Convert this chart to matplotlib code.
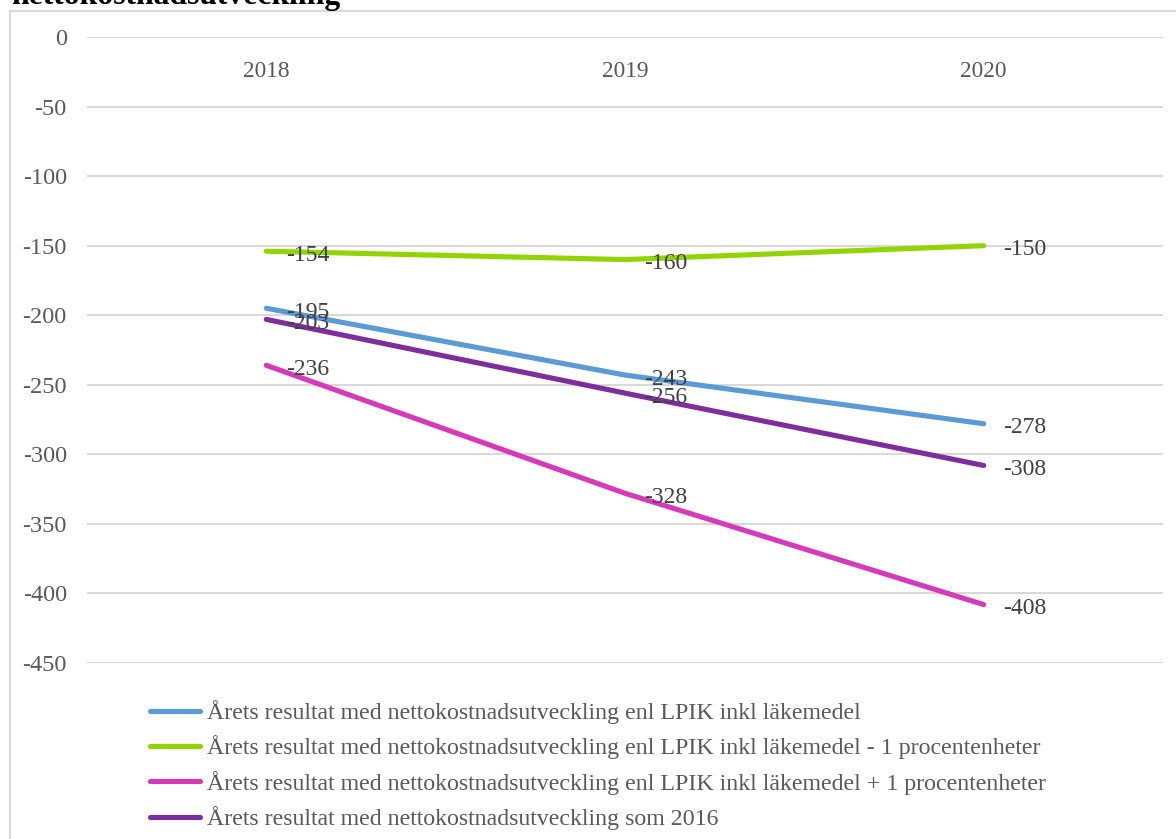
import matplotlib.pyplot as plt
from matplotlib.patches import Rectangle

# data
years = ['2018', '2019', '2020']
lpik = [-195, -243, -278]
lpik_minus1 = [-154, -160, -150]
lpik_plus1 = [-236, -328, -408]
som_2016 = [-203, -256, -308]

series_names = [
    'Årets resultat med nettokostnadsutveckling enl LPIK inkl läkemedel',
    'Årets resultat med nettokostnadsutveckling enl LPIK inkl läkemedel - 1 procentenheter',
    'Årets resultat med nettokostnadsutveckling enl LPIK inkl läkemedel + 1 procentenheter',
    'Årets resultat med nettokostnadsutveckling som 2016',
]
colors = ['#5B9BD5', '#92D400', '#D63AB8', '#7E2E9C']
y_ticks = [0, -50, -100, -150, -200, -250, -300, -350, -400, -450]

plt.rcParams['font.family'] = ['Liberation Serif', 'DejaVu Serif']

fig = plt.figure(figsize=(11.76, 8.39), dpi=100)
ax = fig.add_axes([87 / 1176, 1 - 663 / 839, 1076 / 1176, 626 / 839])

# outer chart border (runs off the right and bottom edge)
fig.patches.append(Rectangle((10 / 1176, -0.2), 1.2, 1.2 - 11 / 839,
                             transform=fig.transFigure, fill=False,
                             edgecolor='#D9D9D9', linewidth=1.5))

# title is cut off at the top, like in the original
fig.text(11 / 1176, 1 - 4 / 839, 'nettokostnadsutveckling', fontsize=22.8,
         fontweight='bold', va='baseline', ha='left', color='black')

x = list(range(len(years)))
for vals, name, col in zip([lpik, lpik_minus1, lpik_plus1, som_2016], series_names, colors):
    ax.plot(x, vals, color=col, linewidth=3.7, solid_capstyle='round', label=name, zorder=3)
    for xi, v in zip(x, vals):
        ax.annotate(str(v), (xi, v), xytext=(14, -3), textcoords='offset points',
                    ha='left', va='center', fontsize=17, color='#404040', zorder=4)

for t in y_ticks:
    ax.axhline(t, color='#D9D9D9', linewidth=1.5, zorder=1)

for xi, yr in zip(x, years):
    ax.text(xi, -24.5, yr, ha='center', va='center', fontsize=16.8, color='#595959')

ax.set_xlim(-0.5, 2.5)
ax.set_ylim(-450, 0)
ax.set_yticks(y_ticks)
ax.set_yticklabels([str(t) for t in y_ticks])
ax.set_xticks([])
ax.tick_params(axis='y', length=0, pad=14.5, labelsize=17.5, labelcolor='#595959')
for s in ax.spines.values():
    s.set_visible(False)
ax.patch.set_visible(False)

fig.legend(loc='upper left', bbox_to_anchor=(150 / 1176, 1 - 700 / 839),
           frameon=False, fontsize=17.2, handlelength=2.1, handletextpad=0.28,
           labelspacing=0.48, borderpad=0, borderaxespad=0, labelcolor='#595959')

fig.savefig('out.png', dpi=100)
